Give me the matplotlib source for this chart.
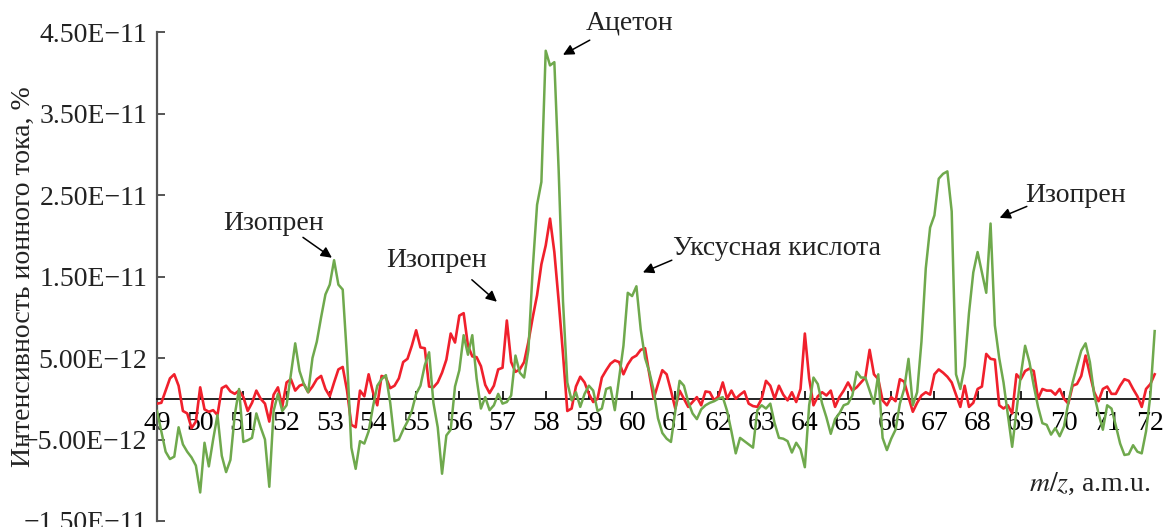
import numpy as np
import matplotlib
matplotlib.use("Agg")
import matplotlib.pyplot as plt
from matplotlib.ticker import FixedLocator, FuncFormatter

# ---- data (ion current, units of 1E-12) sampled every 0.1 amu from m/z = 49.0 ----
mz_start = 49.0
mz_step = 0.1

red = [
    -0.6, -0.5, 1.0, 2.5, 3.0, 1.6, -1.5, -1.8, -3.6, -2.8,      # 49.0-49.9
    1.4, -1.3, -1.6, -1.4, -2.0, 1.3, 1.6, 0.9, 0.6, 1.0,        # 50
    0.2, -1.5, -0.5, 1.0, 0.0, -0.6, -2.8, 0.5, 1.4, -1.0,       # 51
    2.0, 2.4, 1.0, 1.6, 1.8, 0.8, 1.5, 2.4, 2.8, 1.2,            # 52
    0.3, 2.0, 3.6, 3.9, 1.0, -3.2, -3.5, 1.0, 0.3, 3.0,          # 53
    0.8, -0.8, 2.8, 2.6, 1.3, 1.6, 2.5, 4.5, 4.9, 6.5,           # 54
    8.4, 6.3, 6.2, 1.5, 1.4, 2.0, 3.2, 4.8, 8.0, 6.9,            # 55
    10.2, 10.5, 6.5, 5.2, 5.1, 4.0, 1.7, 0.7, 1.6, 3.6,          # 56
    3.8, 9.6, 4.5, 3.3, 3.6, 4.5, 7.0, 10.0, 12.7, 16.5,         # 57
    18.8, 22.1, 18.0, 12.0, 5.5, -1.5, -1.2, 1.5, 2.7, 2.0,      # 58
    0.6, -0.4, 0.0, 2.6, 3.5, 4.3, 4.7, 4.5, 3.0, 4.2,           # 59
    5.0, 5.3, 6.0, 6.2, 3.0, 0.0, 1.8, 3.5, 3.0, 1.0,            # 60
    -1.2, 1.0, 0.0, -1.0, -0.4, 0.2, -0.8, 0.9, 0.8, -0.2,       # 61
    0.3, 2.0, 0.0, 1.0, 0.0, 0.5, 0.9, -0.6, -0.9, -1.0,         # 62
    0.0, 2.2, 1.6, 0.0, 1.6, 0.5, -0.2, 0.8, -0.4, 1.2,          # 63
    8.0, 2.5, -0.8, 0.3, 0.8, 0.4, 1.0, -1.0, 0.2, 1.0,          # 64
    2.0, 1.0, 1.4, 2.0, 2.6, 6.0, 3.0, 2.4, -0.2, -0.8,          # 65
    0.2, -0.3, 2.4, 2.1, 0.2, -1.6, -0.5, 0.4, 0.8, 0.5,         # 66
    3.0, 3.6, 3.2, 2.7, 2.0, 0.5, -1.0, 1.6, -1.0, -0.5,         # 67
    1.2, 1.5, 5.5, 4.9, 4.8, -0.8, -1.2, -0.8, -1.8, 3.0,        # 68
    2.4, 3.4, 3.7, 3.4, 0.0, 1.2, 1.0, 1.0, 0.5, 1.2,            # 69
    0.0, -0.6, 1.6, 1.8, 2.8, 5.3, 3.0, 0.8, -0.3, 1.2,          # 70
    1.5, 0.6, 0.6, 1.6, 2.4, 2.2, 1.2, 0.3, -1.0, 1.2,           # 71
    1.8, 3.0,                                                    # 72
]

green = [
    -1.5, -4.0, -6.5, -7.4, -7.1, -3.5, -5.6, -6.5, -7.2, -8.2,  # 49
    -11.5, -5.4, -8.3, -5.0, -2.0, -7.0, -9.0, -7.5, -2.0, 1.2,  # 50
    -5.3, -5.1, -4.8, -1.8, -3.5, -5.0, -10.8, -1.5, 0.6, -1.5,  # 51
    -0.8, 3.0, 6.8, 3.4, 1.8, 0.8, 5.0, 7.0, 10.0, 12.8,         # 52
    14.0, 17.0, 14.0, 13.4, 5.0, -6.0, -8.6, -5.2, -5.5, -4.0,   # 53
    -1.0, 1.6, 2.4, 2.9, -0.5, -5.2, -5.0, -3.8, -2.8, -1.5,     # 54
    0.6, 1.6, 4.1, 5.7, -0.5, -3.5, -9.2, -4.5, -3.8, 1.5,       # 55
    3.5, 7.8, 5.4, 7.8, 2.5, -1.2, 0.2, -1.4, -0.8, 0.6,         # 56
    -0.6, -0.4, 0.4, 5.3, 3.2, 2.6, 6.0, 16.0, 23.8, 26.6,       # 57
    42.7, 40.9, 41.3, 28.0, 12.0, 2.0, -0.2, 0.8, -1.0, 0.6,     # 58
    1.6, 1.0, -1.5, -1.2, 1.2, 1.4, -1.4, 2.5, 6.5, 13.0,        # 59
    12.6, 13.8, 8.5, 5.0, 3.3, 1.0, -2.4, -4.2, -4.9, -5.3,      # 60
    -1.5, 2.2, 1.6, -0.4, -1.8, -2.5, -1.3, -0.8, -0.5, -0.3,    # 61
    0.0, 0.2, -1.5, -4.0, -6.7, -4.8, -5.2, -5.6, -6.0, -1.4,    # 62
    -0.8, -1.2, -0.6, -3.0, -4.8, -4.9, -5.2, -6.6, -5.4, -6.2,  # 63
    -8.4, -0.8, 2.6, 1.8, -0.6, -2.3, -4.3, -2.5, -1.8, -0.8,    # 64
    -0.6, 0.4, 3.3, 2.6, 2.6, 1.0, -0.6, 3.0, -4.8, -6.3,        # 65
    -4.9, -3.8, -0.6, 1.2, 4.9, -0.8, 0.8, 7.0, 16.0, 21.0,      # 66
    22.5, 27.0, 27.6, 27.9, 23.0, 3.0, 1.2, 4.0, 10.5, 15.5,     # 67
    18.0, 15.5, 13.0, 21.5, 9.0, 5.0, 2.0, -2.0, -5.9, -1.5,     # 68
    2.9, 6.5, 4.5, 1.6, -1.0, -3.0, -3.2, -4.4, -3.6, -4.6,      # 69
    -3.4, -0.5, 2.0, 4.0, 5.9, 6.8, 4.5, 0.5, -1.8, -3.8,        # 70
    -0.8, -1.2, -3.3, -5.5, -6.9, -6.8, -5.7, -6.5, -6.7, -4.0,  # 71
    0.4, 8.3,                                                    # 72
]

y_ticks = [-15, -5, 5, 15, 25, 35, 45]          # units of 1E-12
x_ticks = list(range(49, 73))

annotations = [
    # text, text position (mz, 1E-12), arrow tail, arrow head
    ("Изопрен", (51.71, 21.5), (52.38, 19.8), (53.05, 17.3)),
    ("Изопрен", (55.48, 17.0), (56.29, 14.6), (56.87, 11.9)),
    ("Ацетон", (59.95, 46.1), (59.02, 44.0), (58.40, 42.2)),
    ("Уксусная кислота", (63.35, 18.4), (60.92, 17.0), (60.25, 15.5)),
    ("Изопрен", (70.27, 25.0), (69.14, 23.6), (68.51, 22.2)),
]

SCALE = 1e-12

# ---- figure ----
plt.rcParams['font.family'] = ['Liberation Serif', 'DejaVu Serif']
plt.rcParams['mathtext.fontset'] = 'stix'

fig = plt.figure(figsize=(11.64, 5.27), dpi=100)
ax = fig.add_axes([157 / 1164, 1 - 521 / 527, 1002 / 1164, 489 / 527])

x_red = mz_start + mz_step * np.arange(len(red))
x_green = mz_start + mz_step * np.arange(len(green))
ax.plot(x_red, np.array(red) * SCALE, color='#f0202c', lw=1.9, zorder=3,
        solid_joinstyle='round')
ax.plot(x_green, np.array(green) * SCALE, color='#6fa94d', lw=1.8, zorder=4,
        solid_joinstyle='round')

ax.set_xlim(49.0, 72.2)
ax.set_ylim(-15 * SCALE, 45 * SCALE)

for s in ['top', 'right']:
    ax.spines[s].set_visible(False)
ax.spines['bottom'].set_position(('data', 0))
ax.spines['bottom'].set_color('black')
ax.spines['bottom'].set_linewidth(1.2)
ax.spines['left'].set_color('#555555')
ax.spines['left'].set_linewidth(1.6)

ax.xaxis.set_major_locator(FixedLocator(x_ticks))
ax.set_xticklabels([str(t) for t in x_ticks])
ax.yaxis.set_major_locator(FixedLocator([v * SCALE for v in y_ticks]))


def yfmt(v, pos):
    return f"{v:.2E}".replace('-', '\u2212')


ax.yaxis.set_major_formatter(FuncFormatter(yfmt))

ax.tick_params(axis='x', direction='in', length=5.5, width=1.2, pad=9,
               labelsize=20, colors='black', zorder=5)
ax.tick_params(axis='y', direction='in', length=6, width=1.4, pad=7,
               labelsize=20, color='#555555', labelcolor='#222222')

ax.set_ylabel("Интенсивность ионного тока, %", fontsize=20, color='#222222')
ax.yaxis.set_label_coords(-0.121, 0.5)

ax.text(72.0, -10.5 * SCALE, "$m/z$, a.m.u.", fontsize=20, ha='right',
        va='center', color='#222222')

for label, tpos, tail, head in annotations:
    ax.text(tpos[0], tpos[1] * SCALE, label, fontsize=20, ha='center',
            va='center', color='#222222', clip_on=False)
    ax.annotate('', xy=(head[0], head[1] * SCALE),
                xytext=(tail[0], tail[1] * SCALE),
                arrowprops=dict(arrowstyle='-|>', color='black', lw=1.1,
                                mutation_scale=16, shrinkA=0, shrinkB=0),
                annotation_clip=False)

fig.savefig("out.png", dpi=100)
